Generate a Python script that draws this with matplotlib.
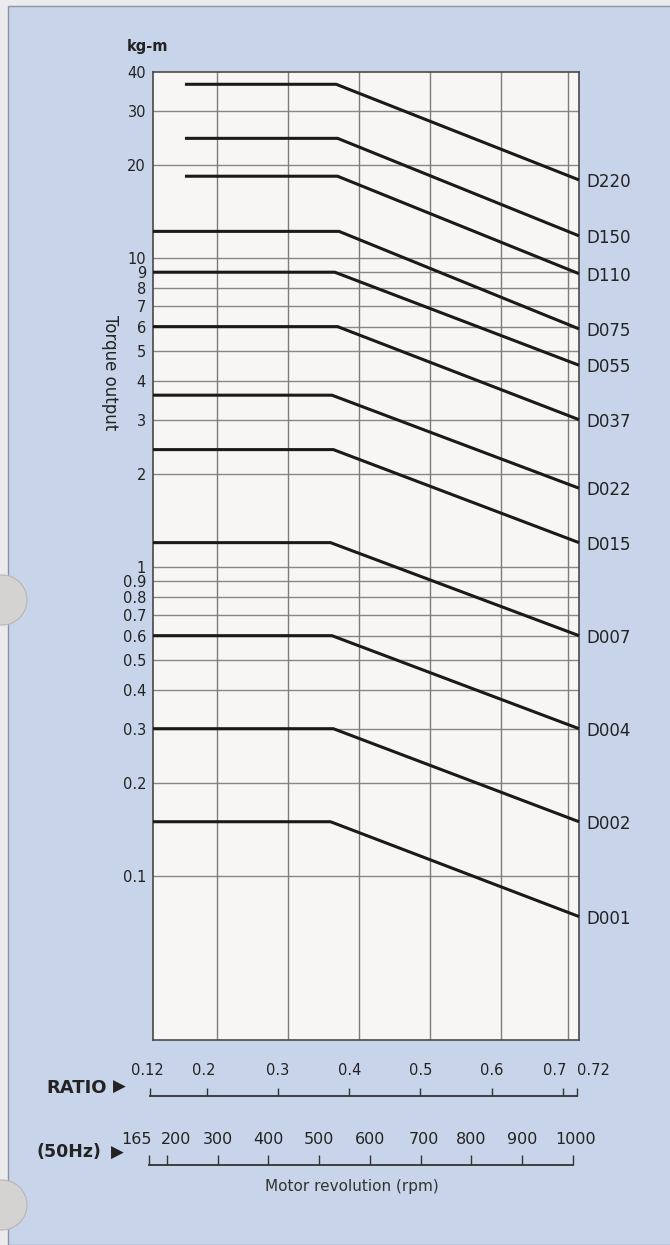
import matplotlib
matplotlib.use("Agg")
import matplotlib.pyplot as plt
from matplotlib.patches import Rectangle, Circle
from matplotlib.ticker import FixedLocator, FixedFormatter, NullLocator

# ---- data -------------------------------------------------------------
models = ["D220", "D150", "D110", "D075", "D055", "D037",
          "D022", "D015", "D007", "D004", "D002", "D001"]
# constant-torque level (kg-m) and torque at the top ratio 0.72
torque_flat = [36.5, 24.4, 18.4, 12.2, 9.0, 6.0, 3.6, 2.4, 1.2, 0.6, 0.3, 0.15]
torque_end = [17.9, 11.8, 8.9, 5.9, 4.5, 3.0, 1.8, 1.2, 0.6, 0.3, 0.15, 0.074]
ratio_start = [0.165, 0.165, 0.165, 0.12, 0.12, 0.12,
               0.12, 0.12, 0.12, 0.12, 0.12, 0.12]
ratio_knee = [0.378, 0.38, 0.38, 0.382, 0.376, 0.38,
              0.372, 0.374, 0.37, 0.372, 0.374, 0.37]
ratio_end = 0.72

y_ticks = [0.1, 0.2, 0.3, 0.4, 0.5, 0.6, 0.7, 0.8, 0.9,
           1, 2, 3, 4, 5, 6, 7, 8, 9, 10, 20, 30, 40]
y_labels = ["0.1", "0.2", "0.3", "0.4", "0.5", "0.6", "0.7", "0.8", "0.9",
            "1", "2", "3", "4", "5", "6", "7", "8", "9", "10", "20", "30", "40"]
grid_ratio = [0.21, 0.31, 0.41, 0.51, 0.61, 0.705]

ratio_ticks = [0.12, 0.2, 0.3, 0.4, 0.5, 0.6, 0.7, 0.72]
ratio_labels = ["0.12", "0.2", "0.3", "0.4", "0.5", "0.6", "0.7", "0.72"]
rpm_ticks = [165, 200, 300, 400, 500, 600, 700, 800, 900, 1000]
rpm_labels = ["165", "200", "300", "400", "500", "600", "700", "800", "900", "1000"]

# ---- figure ------------------------------------------------------------
W, H = 670, 1245
BLUE = "#c7d4e9"
INK = "#232323"

fig = plt.figure(figsize=(W / 100, H / 100), dpi=100)
fig.patch.set_facecolor("#ebebee")


def fx(px):
    return px / W


def fy(py):
    return 1 - py / H


# page panel
fig.add_artist(Rectangle((fx(8), 0), 1, fy(6), transform=fig.transFigure,
                         facecolor=BLUE, edgecolor="#8d93a0", lw=1.0, zorder=0))
# binder holes
for cy in (600, 1205):
    fig.add_artist(Circle((0.02, (H - cy) / 100), 0.25,
                          transform=fig.dpi_scale_trans,
                          facecolor="#d5d3d1", edgecolor="#b9b6b4",
                          lw=0.8, zorder=1))

# ---- main torque panel -------------------------------------------------
ax = fig.add_axes([fx(153), fy(1040), (579 - 153) / W, (1040 - 72) / H])
ax.set_facecolor("#f8f6f5")
ax.set_yscale("log")
ax.set_xlim(0.12, 0.72)
ax.set_ylim(0.0295, 40)
ax.set_xticks([])
ax.yaxis.set_major_locator(FixedLocator(y_ticks))
ax.yaxis.set_major_formatter(FixedFormatter(y_labels))
ax.yaxis.set_minor_locator(NullLocator())
ax.tick_params(axis="y", length=0, pad=5, labelsize=10.5, labelcolor=INK)
for lab in ax.get_yticklabels():
    lab.set_fontweight("medium")

for v in y_ticks[:-1]:
    ax.axhline(v, color="#878787", lw=1.0, zorder=1)
for g in grid_ratio:
    ax.axvline(g, color="#7c7c7c", lw=1.0, zorder=1)
for s in ax.spines.values():
    s.set_color("#4a4a4a")
    s.set_linewidth(1.2)

for name, c, e, x0, xk in zip(models, torque_flat, torque_end,
                              ratio_start, ratio_knee):
    ax.plot([x0, xk, ratio_end], [c, c, e], color="#1a1a1a", lw=2.2,
            solid_capstyle="butt", solid_joinstyle="miter", zorder=3,
            clip_on=False)
    ax.annotate(name, xy=(ratio_end, e), xytext=(5, -1.5),
                textcoords="offset points", ha="left", va="center",
                fontsize=12, color=INK, annotation_clip=False)

fig.text(fx(148), fy(47), "kg-m", ha="center", va="center",
         fontsize=10.5, weight="bold", color=INK)
fig.text(fx(110), fy(373), "Torque output", rotation=-90, ha="center",
         va="center", fontsize=12, color=INK)

# ---- ratio / rpm scales ------------------------------------------------
def scale_axis(rect, lim, ticks, labels, shifts, tick_len, size):
    a = fig.add_axes(rect)
    a.set_xlim(*lim)
    a.patch.set_visible(False)
    for k in ("top", "left", "right"):
        a.spines[k].set_visible(False)
    a.spines["bottom"].set_color("#333333")
    a.spines["bottom"].set_linewidth(1.3)
    a.set_yticks([])
    a.set_xticks(ticks)
    a.set_xticklabels([])
    a.tick_params(axis="x", direction="in", length=tick_len, width=1.0,
                  color="#333333", bottom=True, top=False)
    for t, lab, dx in zip(ticks, labels, shifts):
        a.annotate(lab, xy=(t, 1), xycoords=("data", "axes fraction"),
                   xytext=(dx, 3), textcoords="offset points",
                   ha="center", va="bottom", fontsize=size, color=INK,
                   fontweight="medium", annotation_clip=False)
    return a


scale_axis([fx(150), fy(1096), 427 / W, 14 / H], (0.12, 0.72),
           ratio_ticks, ratio_labels,
           [-2, -2, 0, 0, 0, 0, -6, 12], 6, 10.5)
scale_axis([fx(149), fy(1165), 424 / W, 14 / H], (165, 1000),
           rpm_ticks, rpm_labels,
           [-9, 7, 0, 0, 0, 0, 2, 0, 0, 2], 7.5, 11.5)

fig.text(fx(352), fy(1187), "Motor revolution (rpm)", ha="center",
         va="center", fontsize=11, color="#333333")
fig.text(fx(46), fy(1088), "RATIO", ha="left", va="center",
         fontsize=13, weight="bold", color=INK)
fig.text(fx(119), fy(1087), "\u25B6", ha="center", va="center",
         fontsize=12, color=INK)
fig.text(fx(37), fy(1152), "(50Hz)", ha="left", va="center",
         fontsize=12.5, weight="bold", color=INK)
fig.text(fx(117), fy(1153), "\u25B6", ha="center", va="center",
         fontsize=12, color=INK)

fig.savefig("out.png", dpi=100, facecolor=fig.get_facecolor())
